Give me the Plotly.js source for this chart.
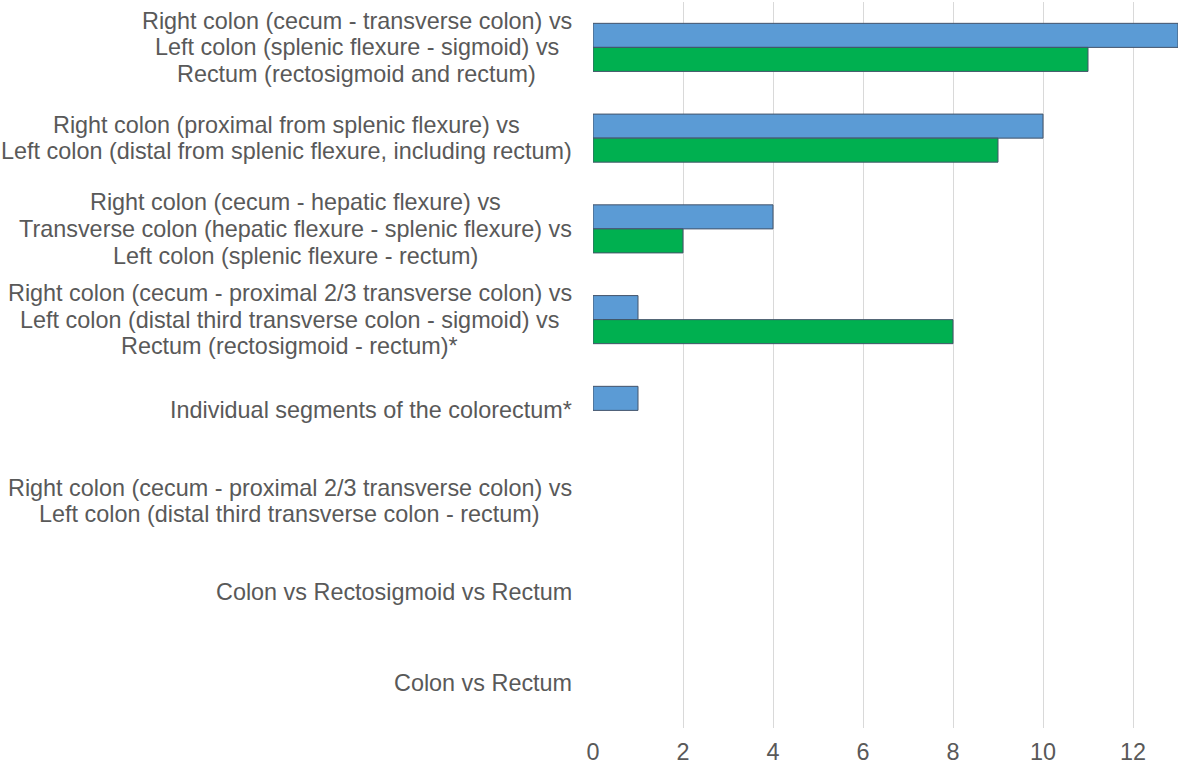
<!DOCTYPE html>
<html>
<head>
<meta charset="utf-8">
<script src="https://cdn.plot.ly/plotly-3.0.1.min.js"></script>
<style>html,body{margin:0;padding:0;background:#fff;}#chart{width:1181px;height:771px;}</style>
</head>
<body>
<div id="chart"></div>
<script>
const categories = [
  "Right colon (cecum - transverse colon) vs<br>Left colon (splenic flexure - sigmoid) vs<br>Rectum (rectosigmoid and rectum)",
  "Right colon (proximal from splenic flexure) vs<br>Left colon (distal from splenic flexure, including rectum)",
  "Right colon (cecum - hepatic flexure) vs<br>Transverse colon (hepatic flexure - splenic flexure) vs<br>Left colon (splenic flexure - rectum)",
  "Right colon (cecum - proximal 2/3 transverse colon) vs<br>Left colon (distal third transverse colon - sigmoid) vs<br>Rectum (rectosigmoid - rectum)*",
  "Individual segments of the colorectum*",
  "Right colon (cecum - proximal 2/3 transverse colon) vs<br>Left colon (distal third transverse colon - rectum)",
  "Colon vs Rectosigmoid vs Rectum",
  "Colon vs Rectum"
];
const seriesBlue = [13, 10, 4, 1, 1, 0, 0, 0];
const seriesGreen = [11, 9, 2, 8, 0, 0, 0, 0];
const xTicks = [0, 2, 4, 6, 8, 10, 12];

const FONT = 'Liberation Sans, Arial, sans-serif';
const LABEL_SIZE = 23.4;
const LINE_GAP = 26.7;
const LABEL_RIGHT_GAP = 21;

function lineWidths(v) { return v.map(x => x > 0 ? 1 : 0); }

const traces = [
  {type: 'bar', orientation: 'h', name: 'Series 1', y: categories, x: seriesBlue,
   marker: {color: '#5B9BD5', line: {color: '#44546A', width: lineWidths(seriesBlue)}}, hoverinfo: 'x'},
  {type: 'bar', orientation: 'h', name: 'Series 2', y: categories, x: seriesGreen,
   marker: {color: '#00B050', line: {color: '#44546A', width: lineWidths(seriesGreen)}}, hoverinfo: 'x'}
];

// measure text to center multi-line labels within a right-aligned block
const ctx = document.createElement('canvas').getContext('2d');
ctx.font = LABEL_SIZE + 'px "Liberation Sans"';
const annotations = [];
categories.forEach(c => {
  const lines = c.split('<br>');
  const maxW = Math.max(...lines.map(l => ctx.measureText(l).width));
  const n = lines.length;
  lines.forEach((l, i) => {
    annotations.push({
      xref: 'paper', x: 0, xanchor: 'center', xshift: -LABEL_RIGHT_GAP - maxW / 2,
      yref: 'y', y: c, yanchor: 'middle', yshift: -(i - (n - 1) / 2) * LINE_GAP,
      text: l, showarrow: false,
      font: {family: FONT, size: LABEL_SIZE, color: '#595959'}
    });
  });
});

const layout = {
  width: 1181, height: 771,
  margin: {l: 593, r: 3, t: 2, b: 43, pad: 0},
  paper_bgcolor: '#ffffff', plot_bgcolor: '#ffffff',
  showlegend: false,
  barmode: 'group', bargap: 0.47, bargroupgap: 0,
  font: {family: FONT, color: '#595959'},
  xaxis: {range: [0, 13], tickvals: xTicks, ticktext: xTicks.map(String),
          showgrid: true, gridcolor: '#D9D9D9', gridwidth: 1, zeroline: false,
          showline: false, ticks: '', tickfont: {size: LABEL_SIZE, color: '#595959'}, ticklabelstandoff: 8},
  yaxis: {type: 'category', categoryorder: 'array', categoryarray: categories, autorange: 'reversed',
          showticklabels: false, showgrid: false, zeroline: false, showline: false, ticks: ''},
  annotations: annotations
};

Plotly.newPlot('chart', traces, layout, {staticPlot: true, displayModeBar: false});
</script>
</body>
</html>
